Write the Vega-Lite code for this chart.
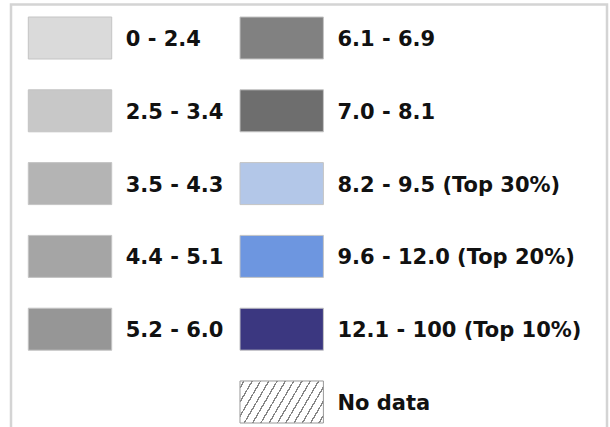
{
  "$schema": "https://vega.github.io/schema/vega-lite/v6.json",
  "width": 596,
  "height": 440,
  "autosize": "none",
  "padding": {"left": 11, "top": 4.5, "right": 3, "bottom": 0},
  "background": "white",
  "config": {"view": {"stroke": "#d4d4d4", "strokeWidth": 2.5}},
  "data": {
    "values": [
      {"label": "0 - 2.4", "col": 1, "row": 1},
      {"label": "2.5 - 3.4", "col": 1, "row": 2},
      {"label": "3.5 - 4.3", "col": 1, "row": 3},
      {"label": "4.4 - 5.1", "col": 1, "row": 4},
      {"label": "5.2 - 6.0", "col": 1, "row": 5},
      {"label": "6.1 - 6.9", "col": 2, "row": 1},
      {"label": "7.0 - 8.1", "col": 2, "row": 2},
      {"label": "8.2 - 9.5 (Top 30%)", "col": 2, "row": 3},
      {"label": "9.6 - 12.0 (Top 20%)", "col": 2, "row": 4},
      {"label": "12.1 - 100 (Top 10%)", "col": 2, "row": 5},
      {"label": "No data", "col": 2, "row": 6}
    ]
  },
  "encoding": {
    "x": {"field": "col", "type": "ordinal", "axis": null,
      "scale": {"type": "band", "domain": [1, 2], "range": [17.3, 312.4], "paddingInner": 0.606, "paddingOuter": 0, "round": false}},
    "y": {"field": "row", "type": "ordinal", "axis": null,
      "scale": {"type": "band", "domain": [1, 2, 3, 4, 5, 6], "range": [12.5, 418.5], "paddingInner": 0.423, "paddingOuter": 0, "round": false}}
  },
  "layer": [
    {
      "transform": [{"filter": "datum.label !== 'No data'"}],
      "mark": {"type": "rect", "stroke": "#c4c4c4", "strokeWidth": 1},
      "encoding": {
        "color": {"field": "label", "type": "nominal", "legend": null,
          "scale": {
            "domain": ["0 - 2.4", "2.5 - 3.4", "3.5 - 4.3", "4.4 - 5.1", "5.2 - 6.0", "6.1 - 6.9", "7.0 - 8.1", "8.2 - 9.5 (Top 30%)", "9.6 - 12.0 (Top 20%)", "12.1 - 100 (Top 10%)"],
            "range": ["#dadada", "#c8c8c8", "#b4b4b4", "#a5a5a5", "#969696", "#818181", "#6e6e6e", "#b3c7e8", "#6d96e0", "#3b3780"]
          }}
      }
    },
    {
      "transform": [{"filter": "datum.label === 'No data'"}],
      "mark": {"type": "rect", "stroke": "#999999", "strokeWidth": 1,
        "fill": {"gradient": "linear", "x1": 0, "y1": 0, "x2": 1.2, "y2": 0.355,
          "stops": [
            {"offset": 0, "color": "#ffffff"},
            {"offset": 0.03, "color": "#ffffff"}, {"offset": 0.03, "color": "#858585"}, {"offset": 0.044, "color": "#858585"}, {"offset": 0.044, "color": "#ffffff"},
            {"offset": 0.1062, "color": "#ffffff"}, {"offset": 0.1062, "color": "#858585"}, {"offset": 0.1202, "color": "#858585"}, {"offset": 0.1202, "color": "#ffffff"},
            {"offset": 0.1824, "color": "#ffffff"}, {"offset": 0.1824, "color": "#858585"}, {"offset": 0.1964, "color": "#858585"}, {"offset": 0.1964, "color": "#ffffff"},
            {"offset": 0.2586, "color": "#ffffff"}, {"offset": 0.2586, "color": "#858585"}, {"offset": 0.2726, "color": "#858585"}, {"offset": 0.2726, "color": "#ffffff"},
            {"offset": 0.3348, "color": "#ffffff"}, {"offset": 0.3348, "color": "#858585"}, {"offset": 0.3488, "color": "#858585"}, {"offset": 0.3488, "color": "#ffffff"},
            {"offset": 0.411, "color": "#ffffff"}, {"offset": 0.411, "color": "#858585"}, {"offset": 0.425, "color": "#858585"}, {"offset": 0.425, "color": "#ffffff"},
            {"offset": 0.4872, "color": "#ffffff"}, {"offset": 0.4872, "color": "#858585"}, {"offset": 0.5012, "color": "#858585"}, {"offset": 0.5012, "color": "#ffffff"},
            {"offset": 0.5634, "color": "#ffffff"}, {"offset": 0.5634, "color": "#858585"}, {"offset": 0.5774, "color": "#858585"}, {"offset": 0.5774, "color": "#ffffff"},
            {"offset": 0.6396, "color": "#ffffff"}, {"offset": 0.6396, "color": "#858585"}, {"offset": 0.6536, "color": "#858585"}, {"offset": 0.6536, "color": "#ffffff"},
            {"offset": 0.7158, "color": "#ffffff"}, {"offset": 0.7158, "color": "#858585"}, {"offset": 0.7298, "color": "#858585"}, {"offset": 0.7298, "color": "#ffffff"},
            {"offset": 0.792, "color": "#ffffff"}, {"offset": 0.792, "color": "#858585"}, {"offset": 0.806, "color": "#858585"}, {"offset": 0.806, "color": "#ffffff"},
            {"offset": 0.8682, "color": "#ffffff"}, {"offset": 0.8682, "color": "#858585"}, {"offset": 0.8822, "color": "#858585"}, {"offset": 0.8822, "color": "#ffffff"},
            {"offset": 0.9444, "color": "#ffffff"}, {"offset": 0.9444, "color": "#858585"}, {"offset": 0.9584, "color": "#858585"}, {"offset": 0.9584, "color": "#ffffff"},
            {"offset": 1, "color": "#ffffff"}
          ]}
      }
    },
    {
      "mark": {"type": "text", "align": "left", "baseline": "middle", "dx": 14, "dy": 2, "font": "DejaVu Sans", "fontWeight": "bold", "fontSize": 21, "color": "#111111"},
      "encoding": {
        "x": {"field": "col", "type": "ordinal", "axis": null, "bandPosition": 1,
          "scale": {"type": "band", "domain": [1, 2], "range": [17.3, 312.4], "paddingInner": 0.606, "paddingOuter": 0, "round": false}},
        "text": {"field": "label"}
      }
    }
  ]
}
